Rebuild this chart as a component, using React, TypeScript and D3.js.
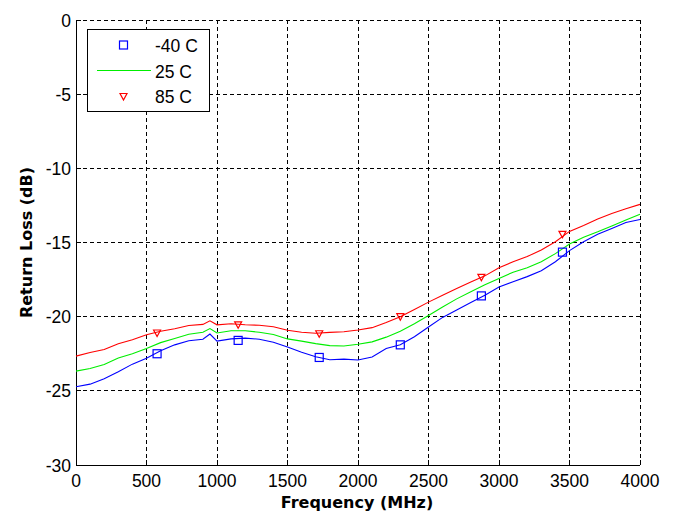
import React from "react";
import * as d3 from "d3";

const freqs = [0, 100, 200, 300, 400, 500, 600, 700, 800, 900, 950, 1000, 1100, 1200, 1300, 1400, 1500, 1600, 1700, 1800, 1900, 2000, 2100, 2200, 2300, 2400, 2500, 2600, 2700, 2800, 2900, 3000, 3100, 3200, 3300, 3400, 3500, 3600, 3700, 3800, 3900, 4000];

const redLoss = [-22.66, -22.42, -22.22, -21.82, -21.55, -21.22, -20.98, -20.82, -20.6, -20.52, -20.28, -20.55, -20.48, -20.55, -20.58, -20.68, -20.92, -21.05, -21.12, -21.06, -21.02, -20.9, -20.74, -20.4, -20.0, -19.52, -19.02, -18.55, -18.1, -17.66, -17.25, -16.7, -16.3, -15.95, -15.5, -14.95, -14.25, -13.85, -13.42, -13.05, -12.72, -12.43];

const greenLoss = [-23.67, -23.5, -23.22, -22.78, -22.5, -22.15, -21.75, -21.47, -21.18, -21.05, -20.8, -21.1, -20.95, -20.95, -21.05, -21.2, -21.5, -21.65, -21.82, -21.95, -21.98, -21.86, -21.7, -21.38, -20.98, -20.48, -19.92, -19.35, -18.8, -18.32, -17.85, -17.42, -17.0, -16.7, -16.3, -15.75, -15.1, -14.65, -14.28, -13.88, -13.48, -13.1];

const blueLoss = [-24.72, -24.55, -24.18, -23.72, -23.2, -22.8, -22.3, -21.9, -21.62, -21.52, -21.17, -21.65, -21.5, -21.45, -21.52, -21.72, -22.05, -22.4, -22.7, -22.9, -22.86, -22.92, -22.72, -22.15, -21.9, -21.35, -20.7, -20.05, -19.55, -19.05, -18.55, -18.0, -17.65, -17.3, -16.9, -16.3, -15.55, -14.95, -14.45, -14.05, -13.65, -13.45];

const markerFreqs = [575, 1150, 1725, 2300, 2875, 3450];
const blueMarks = [-22.5, -21.6, -22.75, -21.9, -18.6, -15.65];
const redMarks = [-21.1, -20.55, -21.15, -20.0, -17.35, -14.45];

const xTicks = [0, 500, 1000, 1500, 2000, 2500, 3000, 3500, 4000];
const yTicks = [0, -5, -10, -15, -20, -25, -30];

const legendLabels = ["-40 C", "25 C", "85 C"];

const W = 675;
const H = 514;
const left = 76;
const right = 640;
const top = 20;
const bottom = 465;

const BLUE = "#0000ff";
const GREEN = "#00ee00";
const RED = "#ff0000";

export default function App() {
  const x = d3.scaleLinear().domain([0, 4000]).range([left, right]);
  const y = d3.scaleLinear().domain([-30, 0]).range([bottom, top]);

  const line = (vals: number[]) =>
    d3
      .line<number>()
      .x((_, i) => x(freqs[i]))
      .y((d) => y(d))(vals) as string;

  const tickFont = "'Liberation Sans', Arial, sans-serif";
  const labelFont = "'DejaVu Sans', sans-serif";

  const square = (cx: number, cy: number, key: string) => (
    <rect key={key} x={cx - 4} y={cy - 4} width={8} height={8} fill="none" stroke={BLUE} strokeWidth={1.2} />
  );
  const tri = (cx: number, cy: number, key: string) => (
    <path key={key} d={`M${cx - 3.5},${cy - 3} L${cx + 3.5},${cy - 3} L${cx},${cy + 3.5} Z`} fill="none" stroke={RED} strokeWidth={1.2} />
  );

  return (
    <svg width={W} height={H} style={{ position: "absolute", left: 0, top: 0, background: "#fff" }}>
      <rect x={0} y={0} width={W} height={H} fill="#fff" />
      {/* grid */}
      <g stroke="#000" strokeWidth={1} strokeDasharray="4,3" shapeRendering="crispEdges">
        {xTicks.map((t) => (
          <line key={"gx" + t} x1={x(t)} x2={x(t)} y1={top} y2={bottom} />
        ))}
        {yTicks.map((t) => (
          <line key={"gy" + t} x1={left} x2={right} y1={y(t)} y2={y(t)} />
        ))}
      </g>
      {/* axes */}
      <g stroke="#000" strokeWidth={1} shapeRendering="crispEdges">
        <line x1={left} x2={left} y1={top} y2={bottom} />
        <line x1={left} x2={right} y1={bottom} y2={bottom} />
        {xTicks.map((t) => (
          <line key={"tx" + t} x1={x(t)} x2={x(t)} y1={bottom} y2={bottom - 5} />
        ))}
        {yTicks.map((t) => (
          <line key={"ty" + t} x1={left} x2={left + 5} y1={y(t)} y2={y(t)} />
        ))}
      </g>
      {/* tick labels */}
      <g fontFamily={tickFont} fontSize={17.5} fill="#000">
        {xTicks.map((t) => (
          <text key={"lx" + t} x={x(t)} y={487} textAnchor="middle">
            {t}
          </text>
        ))}
        {yTicks.map((t) => (
          <text key={"ly" + t} x={71} y={y(t) + 6.5} textAnchor="end">
            {t}
          </text>
        ))}
      </g>
      {/* axis labels */}
      <text x={357} y={508} textAnchor="middle" fontFamily={labelFont} fontWeight="bold" fontSize={16} fill="#000">
        Frequency (MHz)
      </text>
      <text transform={`translate(32,${(top + bottom) / 2}) rotate(-90)`} textAnchor="middle" fontFamily={labelFont} fontWeight="bold" fontSize={16} fill="#000">
        Return Loss (dB)
      </text>
      {/* series */}
      <g fill="none" strokeWidth={1.1}>
        <path d={line(blueLoss)} stroke={BLUE} />
        <path d={line(greenLoss)} stroke={GREEN} />
        <path d={line(redLoss)} stroke={RED} />
      </g>
      {markerFreqs.map((f, i) => square(x(f), y(blueMarks[i]), "bm" + i))}
      {markerFreqs.map((f, i) => tri(x(f), y(redMarks[i]), "rm" + i))}
      {/* legend */}
      <rect x={87.5} y={29.5} width={122} height={81.5} fill="#fff" stroke="#000" strokeWidth={1} shapeRendering="crispEdges" />
      {square(123.5, 45, "lg0")}
      <line x1={97} x2={151} y1={70.5} y2={70.5} stroke={GREEN} strokeWidth={1.1} />
      {tri(123.5, 96.5, "lg2")}
      <g fontFamily={tickFont} fontSize={17.5} fill="#000">
        {legendLabels.map((l, i) => (
          <text key={l} x={155} y={[45, 71, 96.5][i] + 6.5}>
            {l}
          </text>
        ))}
      </g>
    </svg>
  );
}
